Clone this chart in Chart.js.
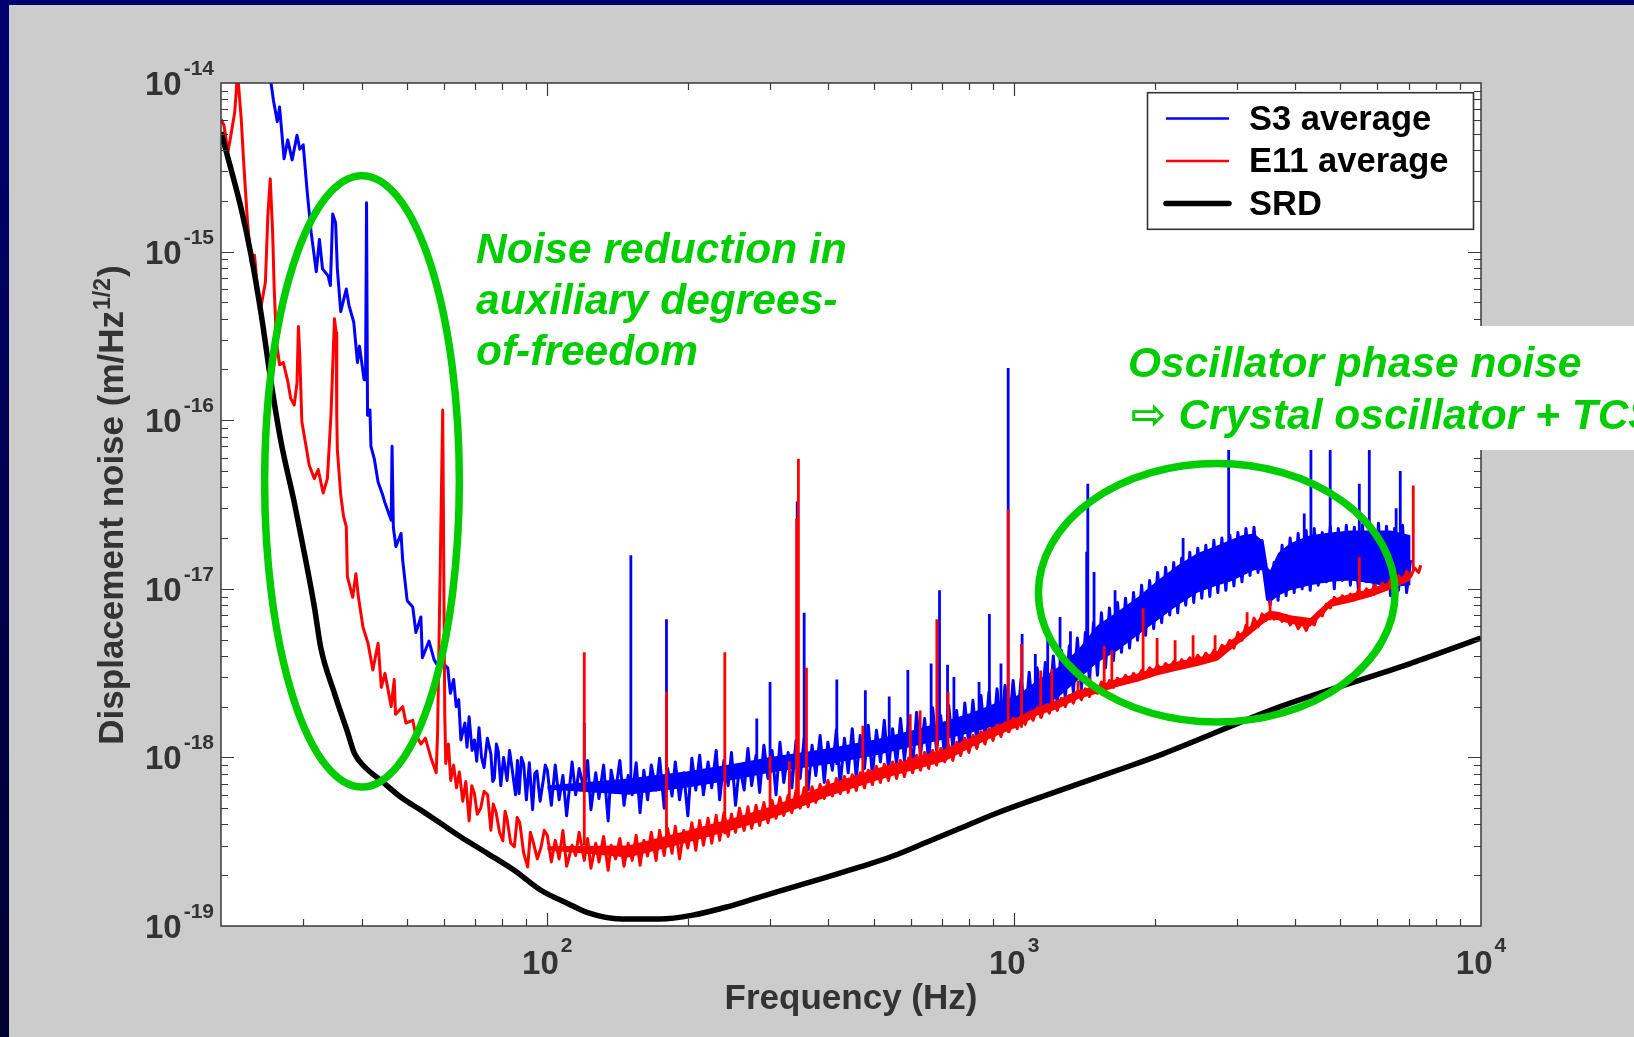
<!DOCTYPE html>
<html>
<head>
<meta charset="utf-8">
<script src="https://cdn.jsdelivr.net/npm/chart.js@4.4.1/dist/chart.umd.min.js"></script>
<style>
html, body { margin: 0; padding: 0; background: #000050; overflow: hidden; }
#wrap { position: absolute; left: 0; top: 0; width: 1634px; height: 1037px; }
</style>
</head>
<body>
<div id="wrap"><canvas id="myChart" width="1634" height="1037"></canvas></div>
<script>
// S3 average, low frequency part (Hz, m/rtHz)
var s3LowHz = [25.0, 25.6, 25.9, 26.4, 26.7, 27.3, 27.8, 28.4, 29.1, 29.5, 30.0, 30.6, 31.2, 32.0, 32.5, 33.0, 33.9, 34.3, 34.7, 35.2,
  35.5, 36.1, 37.1, 37.6, 38.5, 39.2, 39.6, 40.5, 40.8, 41.0, 41.2, 41.7, 41.9, 42.6, 43.4, 44.4, 44.8, 46.3, 46.5, 46.8,
  47.4, 48.6, 49.0, 50.1, 51.5, 52.3, 53.6, 54.0, 55.8, 57.2, 58.6, 59.8, 61.2, 62.0, 63.0, 63.8, 64.6, 65.3, 66.6, 67.3,
  68.0, 69.0, 69.8, 70.6, 71.4, 72.3, 73.2, 74.4, 75.7, 76.4, 77.0, 77.8, 78.5, 79.5, 80.6, 82.0, 83.0, 84.0, 85.5, 86.3,
  87.0, 88.0, 89.0, 90.2, 91.5, 93.0, 94.0, 95.0, 96.5, 98.0, 99.0];
var s3Low = [1.3e-14, 1.0e-14, 7.9e-15, 5.9e-15, 7.2e-15, 3.55e-15, 4.6e-15, 3.5e-15, 4.9e-15, 4.05e-15, 4.3e-15, 2.25e-15, 1.3e-15, 7.6e-16, 1.18e-15, 7.9e-16, 7.2e-16, 6.3e-16, 1.67e-15, 1.48e-15,
  7.9e-16, 4.4e-16, 6.0e-16, 4.8e-16, 3.8e-16, 2.2e-16, 2.75e-16, 1.74e-16, 1.74e-16, 1.95e-15, 1.07e-16, 1.15e-16, 7.0e-17, 5.9e-17, 4.3e-17, 3.6e-17, 3.3e-17, 2.55e-17, 7.0e-17, 2.3e-17,
  1.78e-17, 2.13e-17, 1.48e-17, 8.5e-18, 7.8e-18, 5.5e-18, 6.8e-18, 3.9e-18, 4.9e-18, 3.8e-18, 3.4e-18, 3.6e-18, 3.4e-18, 2.4e-18, 2.9e-18, 2.0e-18, 2.2e-18, 1.27e-18, 1.6e-18, 1.15e-18,
  1.74e-18, 1.1e-18, 1.27e-18, 9.5e-19, 1.5e-18, 1.0e-18, 8.7e-19, 1.3e-18, 1.05e-18, 7.2e-19, 7.5e-19, 1.2e-18, 1.09e-18, 6.8e-19, 1.0e-18, 7.3e-19, 1.1e-18, 8.7e-19, 6.0e-19, 9.6e-19,
  6.1e-19, 1.0e-18, 9.1e-19, 5.6e-19, 9.3e-19, 4.9e-19, 8.0e-19, 8.3e-19, 5.5e-19, 7.3e-19, 9.0e-19];

// E11 average, low frequency part
var e11LowHz = [20.0, 20.3, 20.7, 21.0, 21.4, 21.7, 22.1, 22.3, 22.5, 22.8, 23.2, 23.6, 24.0, 24.4, 24.9, 25.2, 25.5, 25.8, 26.0, 26.3,
  26.7, 27.2, 27.8, 28.2, 28.7, 29.1, 29.3, 29.5, 29.8, 30.4, 30.9, 31.7, 32.3, 33.1, 33.8, 34.4, 35.0, 35.3, 35.4, 35.5,
  36.1, 36.6, 37.1, 37.3, 38.3, 38.9, 39.4, 40.3, 41.3, 42.3, 43.4, 44.1, 44.9, 46.3, 47.0, 47.3, 49.0, 49.8, 51.5, 52.2,
  53.6, 54.8, 56.3, 57.8, 58.2, 59.7, 60.3, 60.6, 61.4, 62.1, 63.0, 63.9, 64.8, 65.9, 66.9, 68.0, 68.9, 69.8, 70.8, 72.0,
  73.2, 74.5, 75.7, 76.6, 77.7, 79.0, 80.3, 81.2, 82.0, 83.5, 85.0, 86.2, 87.3, 89.0, 90.8, 92.0, 93.4, 95.2, 97.0, 98.5];
var e11Low = [6.1e-15, 5.6e-15, 3.9e-15, 4.9e-15, 6.7e-15, 1.15e-14, 6.1e-15, 3.9e-15, 2.6e-15, 1.49e-15, 8.7e-16, 9.5e-16, 5.5e-16, 4.8e-16, 6.6e-16, 1.64e-15, 2.7e-15, 1.3e-15, 6.0e-16, 2.9e-16,
  2.13e-16, 2.2e-16, 1.7e-16, 1.35e-16, 1.23e-16, 1.67e-16, 3.6e-16, 2.4e-16, 9.8e-17, 7.1e-17, 5.4e-17, 4.5e-17, 5.1e-17, 3.7e-17, 4.5e-17, 1.07e-16, 4.0e-16, 3.3e-16, 1.06e-16, 6.7e-17,
  3.6e-17, 2.7e-17, 2.34e-17, 1.18e-17, 8.9e-18, 1.23e-17, 8.9e-18, 5.9e-18, 4.75e-18, 3.3e-18, 4.75e-18, 2.6e-18, 3.15e-18, 2.0e-18, 2.9e-18, 1.8e-18, 2.0e-18, 1.6e-18, 1.66e-18, 1.38e-18,
  1.2e-18, 1.3e-18, 1.0e-18, 8.1e-19, 1.38e-18, 1.15e-16, 1.8e-18, 9.2e-19, 1.2e-18, 7.3e-19, 9.0e-19, 6.6e-19, 8.2e-19, 5.5e-19, 7.2e-19, 4.2e-19, 6.8e-19, 6.1e-19, 4.6e-19, 5.0e-19,
  6.3e-19, 6.0e-19, 3.7e-19, 5.3e-19, 4.7e-19, 3.6e-19, 3.2e-19, 4.8e-19, 4.3e-19, 3.1e-19, 2.95e-19, 4.4e-19, 4.1e-19, 2.7e-19, 2.24e-19, 3.6e-19, 3.1e-19, 2.5e-19, 2.95e-19, 3.7e-19];

// noise band above 100 Hz, both runs share these frequencies
var bandHz = [100, 102, 104, 106, 108, 110, 113, 115, 117, 120,
  122, 124, 127, 129, 132, 135, 137, 140, 143, 146,
  149, 152, 155, 158, 161, 164, 167, 171, 174, 178,
  181, 185, 188, 192, 196, 200, 204, 208, 212, 216,
  221, 225, 230, 234, 239, 244, 248, 253, 258, 264,
  269, 274, 280, 285, 291, 297, 303, 309, 315, 321,
  328, 334, 341, 348, 355, 362, 369, 376, 384, 392,
  399, 408, 416, 424, 433, 441, 450, 459, 468, 478,
  487, 497, 507, 517, 527, 538, 549, 560, 571, 582,
  594, 606, 618, 630, 643, 656, 669, 682, 696, 710,
  724, 739, 753, 768, 784, 800, 816, 832, 849, 866,
  883, 901, 919, 937, 956, 975, 995, 1015, 1035, 1056,
  1077, 1098, 1120, 1143, 1166, 1189, 1213, 1237, 1262, 1287,
  1313, 1339, 1366, 1393, 1421, 1450, 1479, 1508, 1538, 1569,
  1600, 1632, 1665, 1698, 1732, 1767, 1802, 1838, 1875, 1912,
  1951, 1990, 2029, 2070, 2111, 2154, 2197, 2241, 2285, 2331,
  2378, 2425, 2474, 2523, 2574, 2625, 2678, 2731, 2786, 2841,
  2898, 2956, 3015, 3076, 3137, 3200, 3264, 3329, 3396, 3464,
  3533, 3604, 3676, 3749, 3824, 3901, 3979, 4058, 4140, 4222,
  4307, 4393, 4481, 4571, 4662, 4755, 4850, 4947, 5046, 5147,
  5250, 5355, 5462, 5572, 5683, 5797, 5913, 6031, 6151, 6275,
  6400, 6528, 6659, 6792, 6928, 7066, 7207, 7352, 7430];

var s3Band = [8.4e-19, 5.2e-19, 9.0e-19, 5.6e-19, 7.8e-19, 4.5e-19, 9.4e-19, 6.0e-19, 8.6e-19, 6.4e-19,
  9.6e-19, 4.9e-19, 8.1e-19, 5.7e-19, 9.0e-19, 4.2e-19, 8.4e-19, 6.2e-19, 9.6e-19, 5.2e-19,
  7.8e-19, 6.0e-19, 9.3e-19, 4.7e-19, 8.4e-19, 5.6e-19, 9.0e-19, 6.4e-19, 9.9e-19, 5.0e-19,
  8.6e-19, 5.9e-19, 9.4e-19, 5.6e-19, 8.1e-19, 4.5e-19, 9.9e-19, 6.4e-19, 1.03e-18, 6.0e-19,
  9.4e-19, 6.6e-19, 1.1e-18, 5.6e-19, 9.6e-19, 6.8e-19, 1.07e-18, 5.2e-19, 9.0e-19, 6.4e-19,
  1.13e-18, 6.8e-19, 1.03e-18, 6.2e-19, 1.18e-18, 7.5e-19, 1.1e-18, 6.0e-19, 1.23e-18, 7.1e-19,
  1.07e-18, 6.6e-19, 1.26e-18, 7.5e-19, 1.3e-18, 6.4e-19, 1.18e-18, 7.8e-19, 1.35e-18, 7.1e-19,
  1.23e-18, 8.4e-19, 1.45e-18, 6.8e-19, 1.3e-18, 8.1e-19, 1.48e-18, 7.5e-19, 1.35e-18, 8.6e-19,
  1.55e-18, 7.8e-19, 1.45e-18, 9.4e-19, 1.66e-18, 8.4e-19, 1.48e-18, 9.0e-19, 1.7e-18, 9.6e-19,
  1.6e-18, 8.6e-19, 1.85e-18, 1.03e-18, 1.7e-18, 9.4e-19, 1.97e-18, 1.1e-18, 1.77e-18, 9.9e-19,
  2.04e-18, 1.13e-18, 1.9e-18, 1.03e-18, 2.1e-18, 1.18e-18, 2.18e-18, 1.23e-18, 2.33e-18, 1.26e-18,
  2.44e-18, 1.3e-18, 2.55e-18, 1.42e-18, 2.67e-18, 1.48e-18, 2.86e-18, 1.55e-18, 2.95e-18, 1.66e-18,
  3.2e-18, 1.7e-18, 3.4e-18, 1.85e-18, 3.65e-18, 1.97e-18, 4.0e-18, 2.04e-18, 4.3e-18, 2.24e-18,
  4.6e-18, 2.44e-18, 5.1e-18, 2.55e-18, 5.5e-18, 2.86e-18, 6.3e-18, 3.07e-18, 7.2e-18, 3.4e-18,
  7.7e-18, 3.76e-18, 8.3e-18, 4.2e-18, 8.8e-18, 4.45e-18, 9.5e-18, 4.95e-18, 1.05e-17, 5.3e-18,
  1.12e-17, 5.8e-18, 1.25e-17, 6.3e-18, 1.34e-17, 7.0e-18, 1.43e-17, 7.2e-18, 1.52e-17, 8.0e-18,
  1.65e-17, 8.3e-18, 1.74e-17, 8.8e-18, 1.81e-17, 9.0e-18, 1.94e-17, 9.5e-18, 2.0e-17, 9.8e-18,
  2.08e-17, 1.04e-17, 2.16e-17, 1.1e-17, 2.28e-17, 1.2e-17, 2.32e-17, 1.25e-17, 1.94e-17, 1.38e-17,
  8.0e-18, 1.43e-17, 8.55e-18, 1.81e-17, 9.1e-18, 2.0e-17, 9.5e-18, 2.13e-17, 1.0e-17, 2.22e-17,
  9.8e-18, 2.28e-17, 1.05e-17, 2.16e-17, 1.1e-17, 2.35e-17, 1.0e-17, 2.28e-17, 1.12e-17, 2.38e-17,
  1.05e-17, 2.32e-17, 9.8e-18, 2.4e-17, 1.1e-17, 2.28e-17, 9.3e-18, 2.45e-17, 1.0e-17, 2.35e-17,
  9.1e-18, 2.28e-17, 9.8e-18, 2.38e-17, 9.5e-18, 1.48e-17, null, null, null];

var e11Band = [3.45e-19, 2.4e-19, 3.22e-19, 2.5e-19, 3.69e-19, 2.26e-19, 3.01e-19, 2.62e-19, 3.6e-19, 2.45e-19,
  3.3e-19, 2.2e-19, 3.1e-19, 2.4e-19, 3.4e-19, 2.14e-19, 3.01e-19, 2.5e-19, 3.3e-19, 2.26e-19,
  3.1e-19, 2.45e-19, 3.45e-19, 2.29e-19, 3.22e-19, 2.6e-19, 3.6e-19, 2.45e-19, 3.69e-19, 2.62e-19,
  3.8e-19, 2.7e-19, 3.9e-19, 2.5e-19, 3.69e-19, 2.9e-19, 4.1e-19, 2.81e-19, 4.23e-19, 3.01e-19,
  4.35e-19, 3.1e-19, 4.53e-19, 3.22e-19, 4.7e-19, 3.4e-19, 4.6e-19, 3.6e-19, 5.0e-19, 3.69e-19,
  5.1e-19, 3.8e-19, 5.2e-19, 3.95e-19, 5.4e-19, 4.1e-19, 5.56e-19, 4.35e-19, 5.8e-19, 4.53e-19,
  5.95e-19, 4.7e-19, 6.37e-19, 5.0e-19, 6.6e-19, 5.1e-19, 6.7e-19, 5.4e-19, 6.9e-19, 5.7e-19,
  7.3e-19, 5.9e-19, 7.5e-19, 6.1e-19, 7.7e-19, 6.2e-19, 7.9e-19, 6.37e-19, 8.1e-19, 6.6e-19,
  8.4e-19, 6.9e-19, 8.85e-19, 7.1e-19, 9.1e-19, 7.3e-19, 9.4e-19, 7.5e-19, 9.6e-19, 7.7e-19,
  9.9e-19, 8.1e-19, 1.03e-18, 8.4e-19, 1.07e-18, 8.6e-19, 1.1e-18, 9.0e-19, 1.13e-18, 9.4e-19,
  1.18e-18, 9.6e-19, 1.23e-18, 1.03e-18, 1.3e-18, 1.07e-18, 1.35e-18, 1.13e-18, 1.42e-18, 1.2e-18,
  1.48e-18, 1.26e-18, 1.55e-18, 1.33e-18, 1.6e-18, 1.42e-18, 1.7e-18, 1.48e-18, 1.77e-18, 1.57e-18,
  1.85e-18, 1.66e-18, 1.97e-18, 1.73e-18, 2.04e-18, 1.83e-18, 2.15e-18, 1.9e-18, 2.24e-18, 2.0e-18,
  2.33e-18, 2.1e-18, 2.44e-18, 2.2e-18, 2.55e-18, 2.3e-18, 2.64e-18, 2.4e-18, 2.8e-18, 2.5e-18,
  2.86e-18, 2.6e-18, 2.95e-18, 2.75e-18, 3.07e-18, 2.83e-18, 3.15e-18, 2.95e-18, 3.28e-18, 3.07e-18,
  3.4e-18, 3.2e-18, 3.52e-18, 3.28e-18, 3.6e-18, 3.4e-18, 3.7e-18, 3.45e-18, 3.8e-18, 3.55e-18,
  3.9e-18, 3.65e-18, 4.03e-18, 3.76e-18, 4.15e-18, 3.85e-18, 4.31e-18, 4.1e-18, 4.62e-18, 4.45e-18,
  4.95e-18, 4.45e-18, 5.5e-18, 4.95e-18, 6.07e-18, 5.5e-18, 6.7e-18, 5.95e-18, 7.1e-18, 6.5e-18,
  7.25e-18, 6.6e-18, 7.1e-18, 6.4e-18, 6.96e-18, 6.1e-18, 6.6e-18, 5.8e-18, 6.3e-18, 5.67e-18,
  6.4e-18, 6.1e-18, 7.25e-18, 6.9e-18, 8.1e-18, 7.7e-18, 8.9e-18, 8.2e-18, 9.1e-18, 8.4e-18,
  9.3e-18, 8.6e-18, 9.8e-18, 8.9e-18, 1.0e-17, 9.2e-18, 1.05e-17, 9.6e-18, 1.08e-17, 1.0e-17,
  1.14e-17, 1.05e-17, 1.2e-17, 1.1e-17, 1.27e-17, 1.18e-17, 1.33e-17, 1.25e-17, 1.38e-17];

// dense core of each noise band (upper and lower edge)
var coreHz = [100, 149, 200, 253, 303, 399, 507, 606, 710, 816, 919, 1015, 1120, 1237, 1366, 1508, 1665, 1838, 2029, 2241,
  2474, 2731, 2898, 3076, 3264, 3396, 3464, 3533, 3676, 3901, 4307, 4755, 5250, 5797, 6400, 7066];
var s3CoreHi = [6.82e-19, 7.5e-19, 8.27e-19, 9.2e-19, 1.01e-18, 1.13e-18, 1.28e-18, 1.45e-18, 1.64e-18, 1.85e-18, 2.12e-18, 2.33e-18,
  2.86e-18, 3.4e-18, 4.31e-18, 6.07e-18, 7.3e-18, 8.9e-18, 1.12e-17, 1.38e-17, 1.63e-17, 1.81e-17, 1.94e-17, 2.08e-17,
  2.13e-17, 1.94e-17, 1.38e-17, 1.29e-17, 1.63e-17, 1.86e-17, 2.08e-17, 2.16e-17, 2.22e-17, 2.22e-17, 2.22e-17, 2.08e-17];
var s3CoreLo = [6.46e-19, 6.0e-19, 6.64e-19, 7.4e-19, 8.16e-19, 9.1e-19, 1.03e-18, 1.16e-18, 1.28e-18, 1.41e-18, 1.55e-18, 1.66e-18,
  1.94e-18, 2.24e-18, 2.86e-18, 3.65e-18, 4.31e-18, 5.3e-18, 6.5e-18, 7.98e-18, 9.5e-18, 1.05e-17, 1.1e-17, 1.19e-17,
  1.29e-17, 1.29e-17, 8.55e-18, 8.3e-18, 9.1e-18, 9.8e-18, 1.05e-17, 1.1e-17, 1.12e-17, 1.08e-17, 1.02e-17, 1.05e-17];
var e11CoreHi = [2.97e-19, 3.0e-19, 3.69e-19, 4.4e-19, 5.13e-19, 6.9e-19, 8.6e-19, 9.9e-19, 1.12e-18, 1.33e-18, 1.55e-18, 1.73e-18,
  1.98e-18, 2.18e-18, 2.5e-18, 2.67e-18, 2.93e-18, 3.15e-18, 3.44e-18, 3.7e-18, 3.9e-18, 4.25e-18, 4.88e-18, 5.55e-18,
  6.25e-18, 6.9e-18, 7.2e-18, 7.4e-18, 7.3e-18, 6.96e-18, 6.7e-18, 8.65e-18, 9.3e-18, 1.0e-17, 1.1e-17, 1.25e-17];
var e11CoreLo = [2.81e-19, 2.55e-19, 3.13e-19, 3.75e-19, 4.35e-19, 5.87e-19, 7.3e-19, 8.4e-19, 9.5e-19, 1.16e-18, 1.35e-18, 1.51e-18,
  1.77e-18, 1.94e-18, 2.21e-18, 2.39e-18, 2.62e-18, 2.81e-18, 3.07e-18, 3.28e-18, 3.48e-18, 3.76e-18, 4.31e-18, 4.9e-18,
  5.6e-18, 6.15e-18, 6.4e-18, 6.6e-18, 6.5e-18, 6.2e-18, 5.95e-18, 7.8e-18, 8.3e-18, 8.95e-18, 9.9e-18, 1.12e-17];

// narrow lines (frequency, level at the foot, peak)
var s3SpikeHz = [120, 151, 180, 281, 300, 343, 355, 417, 480, 540, 592, 664, 692, 720, 743, 841, 885, 937, 971, 1040,
  1110, 1180, 1254, 1320, 1430, 1438, 1483, 1645, 2301, 2881, 4182, 4322, 4753, 5487, 5764, 6580, 6715];
var s3SpikeFoot = [7e-19, 7e-19, 7e-19, 8e-19, 8e-19, 9e-19, 9e-19, 9e-19, 1e-18, 1.1e-18, 1.2e-18, 1.3e-18, 1.3e-18, 1.4e-18, 1.4e-18, 1.6e-18, 1.7e-18, 1.8e-18, 1.9e-18, 2.2e-18,
  2.5e-18, 2.7e-18, 3e-18, 3.2e-18, 3.5e-18, 3.5e-18, 3.8e-18, 5e-18, 1e-17, 1.2e-17, 1.5e-17, 1.5e-17, 1.5e-17, 1.5e-17, 1.5e-17, 1.5e-17, 1.5e-17];
var s3SpikeTop = [1.6e-18, 1.58e-17, 6.6e-18, 1.7e-18, 2.8e-18, 3.3e-17, 7.2e-18, 2.9e-18, 2.5e-18, 2.3e-18, 3.3e-18, 3.6e-18, 9.8e-18, 3.55e-18, 3.0e-18, 2.8e-18, 7.1e-18, 3.6e-18, 2.04e-16, 5.4e-18,
  4.1e-18, 5.1e-18, 6.8e-18, 5.6e-18, 1.66e-17, 4.2e-17, 1.26e-17, 9.8e-18, 2.0e-17, 1.2e-16, 2.8e-17, 1.2e-16, 1.2e-16, 4.2e-17, 1.2e-16, 3.0e-17, 5.0e-17];

var e11SpikeHz = [120, 180, 240, 300, 330, 342, 345, 359, 474, 599, 629, 683, 722, 971, 1037, 1140, 1204, 1370, 1454, 1559,
  1619, 1889, 2024, 2212, 2417, 2694, 3155, 3534, 5487, 7160];
var e11SpikeFoot = [3e-19, 3e-19, 3.5e-19, 4.5e-19, 5e-19, 5.5e-19, 5.5e-19, 5.5e-19, 7e-19, 9e-19, 9e-19, 1e-18, 1.1e-18, 1.4e-18, 1.5e-18, 1.7e-18, 1.9e-18, 2.3e-18, 2.4e-18, 2.6e-18,
  2.7e-18, 3.2e-18, 3.3e-18, 3.5e-18, 3.8e-18, 4e-18, 5.5e-18, 6.5e-18, 9e-18, 1.3e-17];
var e11SpikeTop = [4.2e-18, 2.45e-18, 4.2e-18, 1.02e-18, 9.5e-19, 2.6e-17, 5.9e-17, 3.4e-18, 1.54e-18, 1.8e-18, 1.9e-18, 6.6e-18, 2.45e-18, 2.95e-17, 4.7e-18, 3.28e-18, 3.35e-18, 2.86e-18, 2.98e-18, 4.6e-18,
  4.3e-18, 7.66e-18, 5.1e-18, 4.95e-18, 5.3e-18, 5.3e-18, 7.25e-18, 8.55e-18, 1.54e-17, 4.1e-17];

// science requirement curve
var srdHz = [20, 21, 22.1, 23.2, 24.4, 25.6, 26.9, 28.7, 29.7, 31.7, 32.7, 35.0, 37.4, 38.6, 40.6, 44.0, 48.6, 53.7, 59.2, 65.3,
  74.5, 84.9, 96.9, 110.6, 122, 144, 174, 205, 243, 286, 336, 397, 468, 550, 651, 766, 914, 1148, 1750, 2084,
  3716, 7050, 10000];
var srd = [5.1e-15, 3.1e-15, 1.79e-15, 9.5e-16, 4.2e-16, 1.68e-16, 7.4e-17, 3.26e-17, 2.03e-17, 7.8e-18, 4.5e-18, 2.4e-18, 1.39e-18, 1.06e-18, 8.8e-19, 7.3e-19, 5.8e-19, 4.85e-19, 4.05e-19, 3.37e-19,
  2.69e-19, 2.14e-19, 1.63e-19, 1.36e-19, 1.2e-19, 1.1e-19, 1.1e-19, 1.16e-19, 1.3e-19, 1.49e-19, 1.7e-19, 1.95e-19, 2.24e-19, 2.6e-19, 3.15e-19, 3.8e-19, 4.65e-19, 5.85e-19, 8.8e-19, 1.05e-18,
  2.0e-18, 3.6e-18, 5.1e-18];

var seriesNames = ["S3 average", "E11 average", "SRD"];
var xTickExp = [2, 3, 4];
var yTickExp = [-19, -18, -17, -16, -15, -14];

// annotation rings, given by their frequency and noise bounds
var ringHz = [[24.8, 64.8], [1127, 6546]];
var ringVal = [[2.82e-15, 6.67e-19], [5.53e-17, 1.62e-18]];
var noteLeft = ["Noise reduction in", "auxiliary degrees-", "of-freedom"];
var noteRight = ["Oscillator phase noise", "\u21E8 Crystal oscillator + TCS"];

var FONT = "'Liberation Sans', Arial, 'DejaVu Sans', sans-serif";
var GRAY_TXT = "#333333";
var GREEN = "#00cc00";
var BLUE = "#0000ff";
var RED = "#ff0000";

function toPoints(hz, vals) {
  var out = [];
  for (var i = 0; i < hz.length; i++) out.push({ x: hz[i], y: vals[i] });
  return out;
}

function toSpikes(hz, foot, top) {
  var out = [];
  for (var i = 0; i < hz.length; i++) {
    out.push({ x: hz[i], y: foot[i] }, { x: hz[i], y: top[i] }, { x: hz[i], y: null });
  }
  return out;
}

// draws "10" with a raised exponent, centred or right aligned
function drawPower(ctx, exp, x, y, size, supSize, supRise, align) {
  var base = "10", sup = String(exp);
  ctx.font = "bold " + size + "px " + FONT;
  var w1 = ctx.measureText(base).width;
  ctx.font = "bold " + supSize + "px " + FONT;
  var w2 = ctx.measureText(sup).width;
  var x0 = align === "center" ? x - (w1 + 2 + w2) / 2 : x - (w1 + 2 + w2);
  ctx.textAlign = "left";
  ctx.textBaseline = "alphabetic";
  ctx.font = "bold " + size + "px " + FONT;
  ctx.fillText(base, x0, y);
  ctx.font = "bold " + supSize + "px " + FONT;
  ctx.fillText(sup, x0 + w1 + 2, y - supRise);
}

function findSet(chart, label) {
  var ds = chart.data.datasets;
  for (var i = 0; i < ds.length; i++) if (ds[i].label === label) return ds[i];
  return null;
}

var pagePlugin = {
  id: "page",
  beforeDraw: function (chart) {
    var ctx = chart.ctx, a = chart.chartArea;
    var g = ctx.createLinearGradient(0, 0, 0, 1037);
    g.addColorStop(0, "#000070");
    g.addColorStop(1, "#000030");
    ctx.save();
    ctx.fillStyle = g;
    ctx.fillRect(0, 0, 1634, 1037);
    ctx.fillStyle = "#cccccc";
    ctx.fillRect(9, 5, 1625, 1032);
    ctx.fillStyle = "#ffffff";
    ctx.fillRect(a.left, a.top, a.right - a.left, a.bottom - a.top);
    ctx.restore();
  },
  afterDatasetsDraw: function (chart) {
    var ctx = chart.ctx, a = chart.chartArea;
    var xs = chart.scales.x, ys = chart.scales.y;
    ctx.save();
    ctx.strokeStyle = "#3a3a3a";
    ctx.lineWidth = 1.5;
    ctx.strokeRect(a.left, a.top, a.right - a.left, a.bottom - a.top);

    // inward ticks on all four sides
    ctx.lineWidth = 1.2;
    ctx.beginPath();
    for (var e = 1; e <= 3; e++) {
      for (var m = 1; m <= 9; m++) {
        var f = m * Math.pow(10, e);
        if (f <= 20 || f >= 10000) continue;
        var x = Math.round(xs.getPixelForValue(f)) + 0.5;
        var len = m === 1 ? 13 : 7;
        ctx.moveTo(x, a.top); ctx.lineTo(x, a.top + len);
        ctx.moveTo(x, a.bottom); ctx.lineTo(x, a.bottom - len);
      }
    }
    for (var ey = -19; ey <= -15; ey++) {
      for (var my = 1; my <= 9; my++) {
        if (ey === -19 && my === 1) continue;
        var y = Math.round(ys.getPixelForValue(my * Math.pow(10, ey))) + 0.5;
        var leny = my === 1 ? 13 : 7;
        ctx.moveTo(a.left, y); ctx.lineTo(a.left + leny, y);
        ctx.moveTo(a.right, y); ctx.lineTo(a.right - leny, y);
      }
    }
    ctx.stroke();

    // green rings
    ctx.strokeStyle = GREEN;
    ctx.lineWidth = 7.5;
    for (var r = 0; r < ringHz.length; r++) {
      var x1 = xs.getPixelForValue(ringHz[r][0]), x2 = xs.getPixelForValue(ringHz[r][1]);
      var y1 = ys.getPixelForValue(ringVal[r][0]), y2 = ys.getPixelForValue(ringVal[r][1]);
      ctx.beginPath();
      ctx.ellipse((x1 + x2) / 2, (y1 + y2) / 2, Math.abs(x2 - x1) / 2, Math.abs(y2 - y1) / 2, 0, 0, Math.PI * 2);
      ctx.stroke();
    }
    ctx.restore();
  },
  afterDraw: function (chart) {
    var ctx = chart.ctx, a = chart.chartArea;
    var xs = chart.scales.x, ys = chart.scales.y;
    ctx.save();

    // tick labels
    ctx.fillStyle = GRAY_TXT;
    yTickExp.forEach(function (e) {
      var y = ys.getPixelForValue(Math.pow(10, e));
      drawPower(ctx, e, 214, y + 12, 33, 21, 20, "right");
    });
    xTickExp.forEach(function (e) {
      var x = xs.getPixelForValue(Math.pow(10, e));
      drawPower(ctx, e, x, 974, 33, 21, 22, "center");
    });

    // axis titles
    ctx.font = "bold 35px " + FONT;
    ctx.textAlign = "center";
    ctx.fillText("Frequency (Hz)", (a.left + a.right) / 2, 1009);

    ctx.translate(123, 505);
    ctx.rotate(-Math.PI / 2);
    ctx.textAlign = "left";
    var t1 = "Displacement noise (m/Hz", t2 = "1/2", t3 = ")";
    ctx.font = "bold 35px " + FONT;
    var w1 = ctx.measureText(t1).width, w3 = ctx.measureText(t3).width;
    ctx.font = "bold 23px " + FONT;
    var w2 = ctx.measureText(t2).width;
    var x0 = -(w1 + w2 + w3 + 2) / 2;
    ctx.font = "bold 35px " + FONT;
    ctx.fillText(t1, x0, 0);
    ctx.fillText(t3, x0 + w1 + w2 + 2, 0);
    ctx.font = "bold 23px " + FONT;
    ctx.fillText(t2, x0 + w1 + 1, -13);
    ctx.setTransform(1, 0, 0, 1, 0, 0);

    // left note
    ctx.fillStyle = GREEN;
    ctx.font = "italic bold 42.5px " + FONT;
    ctx.textAlign = "left";
    for (var i = 0; i < noteLeft.length; i++) ctx.fillText(noteLeft[i], 476, 263 + i * 51);

    // right note sits on a white box over the frame
    ctx.fillStyle = "#ffffff";
    ctx.fillRect(1120, 326, 514, 124);
    ctx.fillStyle = GREEN;
    ctx.fillText(noteRight[0], 1128, 377);
    ctx.fillText(noteRight[1], 1131, 429);

    // legend
    var lx = 1147.5, ly = 92.7, lw = 326, lh = 136.6;
    ctx.fillStyle = "#ffffff";
    ctx.fillRect(lx, ly, lw, lh);
    ctx.strokeStyle = "#333333";
    ctx.lineWidth = 1.6;
    ctx.strokeRect(lx, ly, lw, lh);
    ctx.font = "bold 34.5px " + FONT;
    ctx.textAlign = "left";
    for (var k = 0; k < seriesNames.length; k++) {
      var set = findSet(chart, seriesNames[k]);
      var yy = 118.5 + k * 42.5;
      ctx.beginPath();
      ctx.strokeStyle = set.borderColor;
      ctx.lineWidth = k === 2 ? 5.5 : 2.5;
      ctx.lineCap = k === 2 ? "round" : "butt";
      ctx.moveTo(1166, yy);
      ctx.lineTo(1229, yy);
      ctx.stroke();
      ctx.fillStyle = "#000000";
      ctx.fillText(set.label, 1249, yy + 11);
    }
    ctx.restore();
  }
};

var config = {
  type: "line",
  data: {
    datasets: [
      {
        label: seriesNames[2],
        data: toPoints(srdHz, srd),
        borderColor: "#000000",
        borderWidth: 5.5,
        cubicInterpolationMode: "monotone",
        order: 1
      },
      {
        label: "E11 lines",
        data: toSpikes(e11SpikeHz, e11SpikeFoot, e11SpikeTop),
        borderColor: RED,
        borderWidth: 2.8,
        spanGaps: false,
        order: 2
      },
      {
        label: seriesNames[1],
        data: toPoints(e11LowHz, e11Low).concat(toPoints(bandHz, e11Band)),
        borderColor: RED,
        borderWidth: 3,
        order: 3
      },
      {
        label: "E11 core",
        data: toPoints(coreHz, e11CoreHi),
        borderColor: "rgba(0,0,0,0)",
        borderWidth: 1,
        backgroundColor: RED,
        fill: "+1",
        order: 4
      },
      {
        label: "E11 core low",
        data: toPoints(coreHz, e11CoreLo),
        borderColor: "rgba(0,0,0,0)",
        borderWidth: 1,
        order: 5
      },
      {
        label: "S3 lines",
        data: toSpikes(s3SpikeHz, s3SpikeFoot, s3SpikeTop),
        borderColor: BLUE,
        borderWidth: 2.8,
        spanGaps: false,
        order: 6
      },
      {
        label: seriesNames[0],
        data: toPoints(s3LowHz, s3Low).concat(toPoints(bandHz, s3Band)),
        borderColor: BLUE,
        borderWidth: 3,
        order: 7
      },
      {
        label: "S3 core",
        data: toPoints(coreHz, s3CoreHi),
        borderColor: "rgba(0,0,0,0)",
        borderWidth: 1,
        backgroundColor: BLUE,
        fill: "+1",
        order: 8
      },
      {
        label: "S3 core low",
        data: toPoints(coreHz, s3CoreLo),
        borderColor: "rgba(0,0,0,0)",
        borderWidth: 1,
        order: 9
      }
    ]
  },
  options: {
    responsive: false,
    animation: false,
    devicePixelRatio: 1,
    layout: { padding: { left: 0, top: 83, right: 153, bottom: 0 } },
    elements: {
      point: { radius: 0, hoverRadius: 0 },
      line: { tension: 0, borderJoinStyle: "round", fill: false }
    },
    datasets: { line: { clip: 0 } },
    plugins: {
      legend: { display: false },
      tooltip: { enabled: false }
    },
    scales: {
      x: {
        type: "logarithmic",
        min: 20,
        max: 10000,
        grid: { display: false, drawTicks: false },
        border: { display: false },
        ticks: { display: false },
        afterFit: function (scale) { scale.height = 111; }
      },
      y: {
        type: "logarithmic",
        min: 1e-19,
        max: 1e-14,
        grid: { display: false, drawTicks: false },
        border: { display: false },
        ticks: { display: false },
        afterFit: function (scale) { scale.width = 221; }
      }
    }
  },
  plugins: [pagePlugin]
};

var myChart = new Chart(document.getElementById("myChart"), config);
</script>
</body>
</html>
